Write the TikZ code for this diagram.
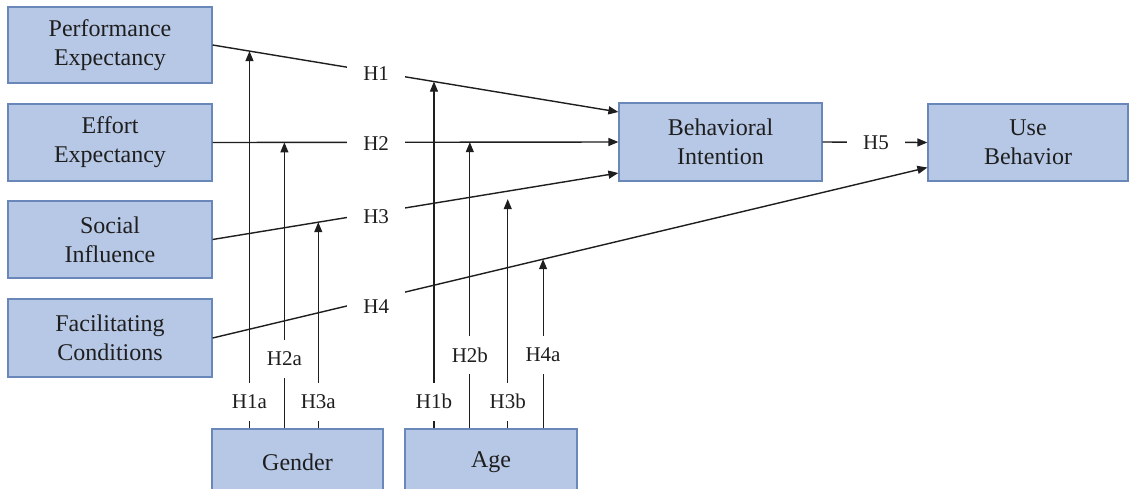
\documentclass[tikz,border=0pt]{standalone}
\usepackage{fontspec}
\setmainfont{Liberation Serif}
\usetikzlibrary{arrows.meta,calc}
\definecolor{boxfill}{RGB}{183,200,230}
\definecolor{boxline}{RGB}{105,135,185}
\definecolor{ink}{RGB}{30,30,30}
\begin{document}
\begin{tikzpicture}[x=1pt,y=-1pt,
  box/.style={draw=boxline, fill=boxfill, line width=1.2pt, align=center,
    font=\fontsize{24}{29}\selectfont, text=ink, inner sep=0pt},
  hlab/.style={fill=white, font=\fontsize{21}{25}\selectfont, text=ink,
    minimum width=58pt, minimum height=36pt, inner sep=0pt},
  vlab/.style={fill=white, font=\fontsize{21}{25}\selectfont, text=ink,
    minimum height=38pt, inner xsep=2pt, inner ysep=0pt},
  link/.style={draw=ink, line width=1.4pt, -{Triangle[length=10pt,width=8pt]}},
  modarrow/.style={draw=ink, line width=1.1pt, -{Triangle[length=10pt,width=8pt]}},
]
\clip (0,0) rectangle (1130,488);
\fill[white] (0,0) rectangle (1130,488);

% boxes
\node[box, minimum width=204pt, minimum height=76pt] (PE) at (110,45) {Performance\\Expectancy};
\node[box, minimum width=204pt, minimum height=77pt] (EE) at (110,142.5) {Effort\\Expectancy};
\node[box, minimum width=204pt, minimum height=77pt] (SI) at (110,239.5) {Social\\Influence};
\node[box, minimum width=204pt, minimum height=78pt] (FC) at (110,338) {Facilitating\\Conditions};
\node[box, minimum width=203pt, minimum height=78pt] (BI) at (720.5,142) {Behavioral\\Intention};
\node[box, minimum width=200pt, minimum height=77pt] (UB) at (1028,142.5) {Use\\Behavior};
\node[box, minimum width=171pt, minimum height=66pt] (G) at (297.5,462) {Gender};
\node[box, minimum width=172pt, minimum height=66pt] (A) at (491,462) {Age};

% main paths
\draw[link] (PE.east) -- coordinate[pos=0.0909] (m1a) coordinate[pos=0.5455] (m1b)
  node[hlab, pos=0.403, yshift=-2pt] {H1} ([yshift=30pt]BI.west);
\draw[link] (EE.east) -- coordinate[pos=0.1769] (m2a) coordinate[pos=0.6339] (m2b)
  node[hlab, pos=0.403, yshift=-1pt] {H2} (BI.west);
\draw[link] (SI.east) -- coordinate[pos=0.2604] (m3a) coordinate[pos=0.7273] (m3b)
  node[hlab, pos=0.403, yshift=-4pt] {H3} ([yshift=-31pt]BI.west);
\draw[link] (FC.east) -- coordinate[pos=0.4623] (m4a)
  node[hlab, pos=0.229, yshift=-8pt] {H4} ([yshift=-25pt]UB.west);
\draw[link] (BI.east) -- node[hlab, pos=0.51] {H5} (UB.west);

% moderators
\draw[modarrow] (m1a |- G.north) -- (m1a);
\draw[modarrow] (m2a |- G.north) -- (m2a);
\draw[modarrow] (m3a |- G.north) -- (m3a);
\draw[modarrow] (m1b |- A.north) -- (m1b);
\draw[modarrow] (m2b |- A.north) -- (m2b);
\draw[modarrow] (m3b |- A.north) -- ([yshift=-8pt]m3b);
\draw[modarrow] (m4a |- A.north) -- (m4a);

% moderator labels
\node[vlab] (l1a) at (m1a |- 0,401.5) {H1a};
\node[vlab] (l2a) at (m2a |- 0,358.5) {H2a};
\node[vlab] (l3a) at (m3a |- 0,401.5) {H3a};
\node[vlab] (l1b) at (m1b |- 0,401.5) {H1b};
\node[vlab] (l2b) at (m2b |- 0,355) {H2b};
\node[vlab] (l3b) at (m3b |- 0,401.5) {H3b};
\node[vlab] (l4a) at (m4a |- 0,355) {H4a};
\end{tikzpicture}
\end{document}
